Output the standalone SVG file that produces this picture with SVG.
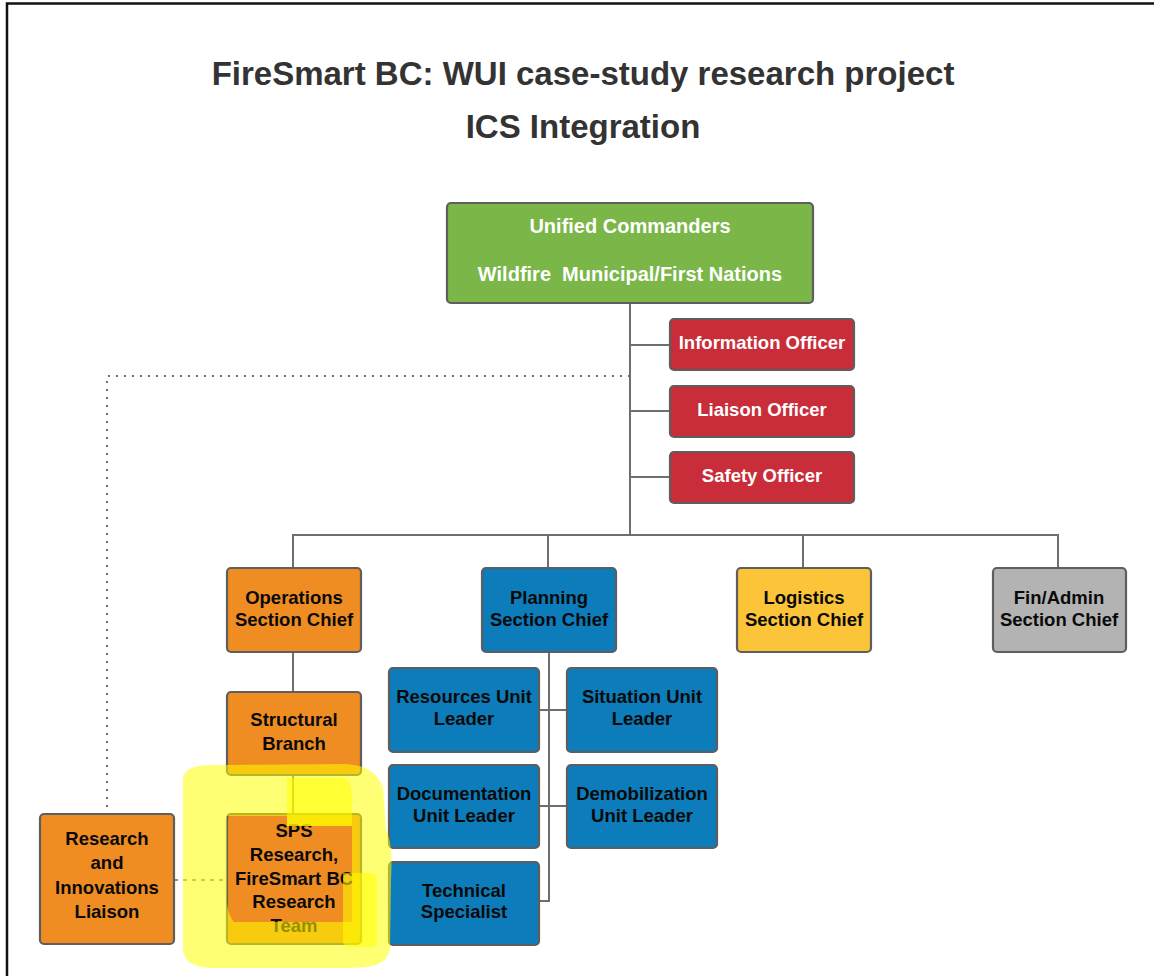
<svg xmlns="http://www.w3.org/2000/svg" width="1154" height="976" viewBox="0 0 1154 976">
<style>
.box{stroke:#5e5e5e;stroke-width:2.2}
.g{fill:#7ab648}.r{fill:#c92d39}.o{fill:#ef8d22}.b{fill:#0c7cba}.y{fill:#fcc438}.gr{fill:#b3b3b3}
.t{font-family:"Liberation Sans",Arial,sans-serif;font-weight:bold;font-size:18.5px;text-anchor:middle;fill:#0a0a0a}
.w{fill:#ffffff}
.big{font-size:20px}
.title{font-family:"Liberation Sans",Arial,sans-serif;font-weight:bold;font-size:33px;text-anchor:middle;fill:#333333}
.ln{fill:none;stroke:#6e6e6e;stroke-width:2}
.dot{fill:none;stroke:#6e6e6e;stroke-width:2;stroke-dasharray:2 6}
.dash{fill:none;stroke:#6e6e6e;stroke-width:1.6;stroke-dasharray:4 5}
</style>
<rect x="0" y="0" width="1154" height="976" fill="#ffffff"/>
<rect x="7" y="3.5" width="1160" height="990" fill="none" stroke="#111111" stroke-width="2.5"/>
<text class="title" x="583" y="85">FireSmart BC: WUI case-study research project</text>
<text class="title" x="583" y="138">ICS Integration</text>

<g id="connectors">
<path class="ln" d="M630,303 V535 M630,345 H670 M630,411 H670 M630,477 H670"/>
<path class="ln" d="M293,568 V535 H1058 V568 M548,535 V568 M803,535 V568"/>
<path class="ln" d="M293,652 V692 M293,775 V814"/>
<path class="ln" d="M549,652 V901 H539 M539,710 H567 M539,806 H567"/>
<path class="dot" d="M630,376 H107 V814"/>
<path class="dash" d="M174,880 H227"/>
</g>

<g id="unified"><rect class="box g" x="447" y="203" width="366" height="100" rx="4"/>
<text class="t w big" x="630" y="233">Unified Commanders</text>
<text class="t w big" x="630" y="281" xml:space="preserve">Wildfire  Municipal/First Nations</text></g>

<g id="info"><rect class="box r" x="670" y="319" width="184" height="51" rx="4"/>
<text class="t w" x="762" y="349">Information Officer</text></g>
<g id="liaison"><rect class="box r" x="670" y="386" width="184" height="51" rx="4"/>
<text class="t w" x="762" y="416">Liaison Officer</text></g>
<g id="safety"><rect class="box r" x="670" y="452" width="184" height="51" rx="4"/>
<text class="t w" x="762" y="482">Safety Officer</text></g>

<g id="operations"><rect class="box o" x="227" y="568" width="134" height="84" rx="4"/>
<text class="t" x="294" y="604">Operations</text><text class="t" x="294" y="626">Section Chief</text></g>
<g id="planning"><rect class="box b" x="482" y="568" width="134" height="84" rx="4"/>
<text class="t" x="549" y="604">Planning</text><text class="t" x="549" y="626">Section Chief</text></g>
<g id="logistics"><rect class="box y" x="737" y="568" width="134" height="84" rx="4"/>
<text class="t" x="804" y="604">Logistics</text><text class="t" x="804" y="626">Section Chief</text></g>
<g id="finadmin"><rect class="box gr" x="993" y="568" width="133" height="84" rx="4"/>
<text class="t" x="1059" y="604">Fin/Admin</text><text class="t" x="1059" y="626">Section Chief</text></g>

<g id="structural"><rect class="box o" x="227" y="692" width="134" height="83" rx="4"/>
<text class="t" x="294" y="726">Structural</text><text class="t" x="294" y="750">Branch</text></g>

<g id="resources"><rect class="box b" x="389" y="668" width="150" height="84" rx="4"/>
<text class="t" x="464" y="703">Resources Unit</text><text class="t" x="464" y="725">Leader</text></g>
<g id="situation"><rect class="box b" x="567" y="668" width="150" height="84" rx="4"/>
<text class="t" x="642" y="703">Situation Unit</text><text class="t" x="642" y="725">Leader</text></g>
<g id="documentation"><rect class="box b" x="389" y="765" width="150" height="83" rx="4"/>
<text class="t" x="464" y="800">Documentation</text><text class="t" x="464" y="822">Unit Leader</text></g>
<g id="demobilization"><rect class="box b" x="567" y="765" width="150" height="83" rx="4"/>
<text class="t" x="642" y="800">Demobilization</text><text class="t" x="642" y="822">Unit Leader</text></g>
<g id="technical"><rect class="box b" x="389" y="862" width="150" height="83" rx="4"/>
<text class="t" x="464" y="897">Technical</text><text class="t" x="464" y="918">Specialist</text></g>

<g id="research"><rect class="box o" x="40" y="814" width="134" height="130" rx="4"/>
<text class="t" x="107" y="845">Research</text><text class="t" x="107" y="869">and</text>
<text class="t" x="107" y="894">Innovations</text><text class="t" x="107" y="918">Liaison</text></g>
<g id="sps"><rect class="box o" x="227" y="814" width="134" height="130" rx="4"/>
<text class="t" x="294" y="837">SPS</text><text class="t" x="294" y="861">Research,</text>
<text class="t" x="294" y="885">FireSmart BC</text><text class="t" x="294" y="908">Research</text>
<text class="t" x="294" y="932">Team</text></g>

<g id="highlight" fill="#ffff00" fill-opacity="0.55">
<path fill-rule="evenodd" d="M183,780 C184,768 195,765 215,765 L345,764 C365,765 378,772 383,788 L386,830 C392,842 392,860 391,880 L390,948 C388,965 372,968 345,968 L210,968 C192,967 183,960 183,948 Z M227,816 L287,816 L287,826 L352,826 L352,922 L234,922 C229,916 227,908 227,900 Z"/>
<path d="M287,778 L343,778 C351,780 352,790 352,800 L352,826 L287,826 Z"/>
<path d="M343,873 L372,873 C377,875 377,880 377,890 L377,942 C376,947 372,947 365,947 L350,947 C345,946 343,944 343,940 Z"/>
</g>
</svg>
